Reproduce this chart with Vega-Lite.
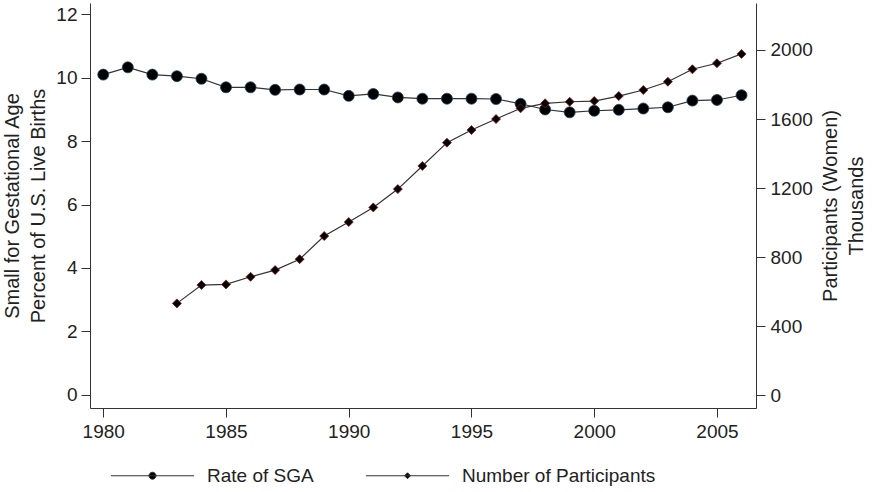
{
  "$schema": "https://vega.github.io/schema/vega-lite/v6.json",
  "width": 666,
  "height": 405,
  "autosize": {"type": "none"},
  "padding": {"left": 90, "top": 3, "right": 117, "bottom": 84},
  "background": "white",
  "config": {
    "font": "Liberation Sans",
    "view": {"stroke": null},
    "axis": {
      "grid": false,
      "domainColor": "#333333",
      "domainWidth": 1,
      "tickColor": "#333333",
      "tickWidth": 1,
      "tickSize": 9,
      "labelFont": "Liberation Sans",
      "labelFontSize": 19,
      "labelColor": "#222222",
      "labelPadding": 4,
      "titleFont": "Liberation Sans",
      "titleFontSize": 20,
      "titleFontWeight": "normal",
      "titleColor": "#222222"
    },
    "legend": {
      "labelFont": "Liberation Sans",
      "labelFontSize": 19,
      "labelColor": "#222222"
    }
  },
  "datasets": {
    "wic": [
      {"year": 1980, "sga": 10.10, "participants": null},
      {"year": 1981, "sga": 10.33, "participants": null},
      {"year": 1982, "sga": 10.10, "participants": null},
      {"year": 1983, "sga": 10.05, "participants": 532},
      {"year": 1984, "sga": 9.97, "participants": 638},
      {"year": 1985, "sga": 9.70, "participants": 642},
      {"year": 1986, "sga": 9.70, "participants": 686},
      {"year": 1987, "sga": 9.62, "participants": 725},
      {"year": 1988, "sga": 9.63, "participants": 788},
      {"year": 1989, "sga": 9.63, "participants": 922},
      {"year": 1990, "sga": 9.43, "participants": 1003},
      {"year": 1991, "sga": 9.49, "participants": 1088},
      {"year": 1992, "sga": 9.38, "participants": 1194},
      {"year": 1993, "sga": 9.34, "participants": 1328},
      {"year": 1994, "sga": 9.34, "participants": 1463},
      {"year": 1995, "sga": 9.34, "participants": 1536},
      {"year": 1996, "sga": 9.33, "participants": 1600},
      {"year": 1997, "sga": 9.18, "participants": 1662},
      {"year": 1998, "sga": 9.00, "participants": 1691},
      {"year": 1999, "sga": 8.91, "participants": 1700},
      {"year": 2000, "sga": 8.96, "participants": 1704},
      {"year": 2001, "sga": 8.99, "participants": 1733},
      {"year": 2002, "sga": 9.03, "participants": 1768},
      {"year": 2003, "sga": 9.07, "participants": 1816},
      {"year": 2004, "sga": 9.28, "participants": 1888},
      {"year": 2005, "sga": 9.30, "participants": 1923},
      {"year": 2006, "sga": 9.45, "participants": 1977}
    ],
    "series": [
      {"series": "Rate of SGA"},
      {"series": "Number of Participants"}
    ]
  },
  "layer": [
    {
      "data": {"name": "wic"},
      "encoding": {
        "x": {
          "field": "year",
          "type": "quantitative",
          "scale": {"domain": [1979.46, 2006.59], "nice": false, "zero": false},
          "axis": {"values": [1980, 1985, 1990, 1995, 2000, 2005], "format": "d", "title": null, "labelPadding": 5}
        },
        "y": {
          "field": "sga",
          "type": "quantitative",
          "scale": {"domain": [-0.42, 12.36], "nice": false, "zero": false},
          "axis": {
            "orient": "left",
            "values": [0, 2, 4, 6, 8, 10, 12],
            "format": "d",
            "title": ["Small for Gestational Age", "Percent of U.S. Live Births"],
            "titlePadding": 7,
            "titleLineHeight": 26
          }
        }
      },
      "layer": [
        {"mark": {"type": "line", "color": "#333333", "strokeWidth": 1.2}},
        {"mark": {"type": "point", "shape": "circle", "filled": true, "fill": "black", "stroke": "#1b4466", "strokeWidth": 0.8, "size": 121, "opacity": 1}}
      ]
    },
    {
      "data": {"name": "wic"},
      "transform": [{"filter": "datum.participants != null"}],
      "encoding": {
        "x": {"field": "year", "type": "quantitative"},
        "y": {
          "field": "participants",
          "type": "quantitative",
          "scale": {"domain": [-74, 2272], "nice": false, "zero": false},
          "axis": {
            "orient": "right",
            "values": [0, 400, 800, 1200, 1600, 2000],
            "format": "d",
            "labelPadding": 5,
            "title": ["Participants (Women)", "Thousands"],
            "titleAngle": 270,
            "titlePadding": 2,
            "titleLineHeight": 26
          }
        }
      },
      "layer": [
        {"mark": {"type": "line", "color": "#333333", "strokeWidth": 1.2}},
        {"mark": {"type": "point", "shape": "diamond", "filled": true, "fill": "black", "stroke": "#8b1a1a", "strokeWidth": 0.8, "size": 81, "opacity": 1}}
      ]
    },
    {
      "data": {"name": "series"},
      "mark": {"type": "point", "filled": true, "strokeWidth": 1, "size": 64, "opacity": 0},
      "encoding": {
        "fill": {
          "field": "series",
          "type": "nominal",
          "scale": {"domain": ["Rate of SGA", "Number of Participants"], "range": ["black", "black"]}
        },
        "stroke": {
          "field": "series",
          "type": "nominal",
          "scale": {"domain": ["Rate of SGA", "Number of Participants"], "range": ["#333333", "#333333"]}
        },
        "shape": {
          "field": "series",
          "type": "nominal",
          "scale": {
            "domain": ["Rate of SGA", "Number of Participants"],
            "range": [
              "M-10.4,0L10.4,0M0.875,0A0.875,0.875,0,1,1,-0.875,0A0.875,0.875,0,1,1,0.875,0Z",
              "M-10.4,0L10.4,0M0,-0.75L0.75,0L0,0.75L-0.75,0Z"
            ]
          },
          "legend": {
            "title": null,
            "orient": "none",
            "direction": "horizontal",
            "legendX": 53,
            "legendY": 463,
            "padding": 0,
            "symbolSize": 64,
            "symbolOpacity": 1,
            "symbolStrokeWidth": 1,
            "labelOffset": 45,
            "labelLimit": 400,
            "columnPadding": 49
          }
        }
      }
    }
  ],
  "resolve": {"scale": {"y": "independent"}}
}
